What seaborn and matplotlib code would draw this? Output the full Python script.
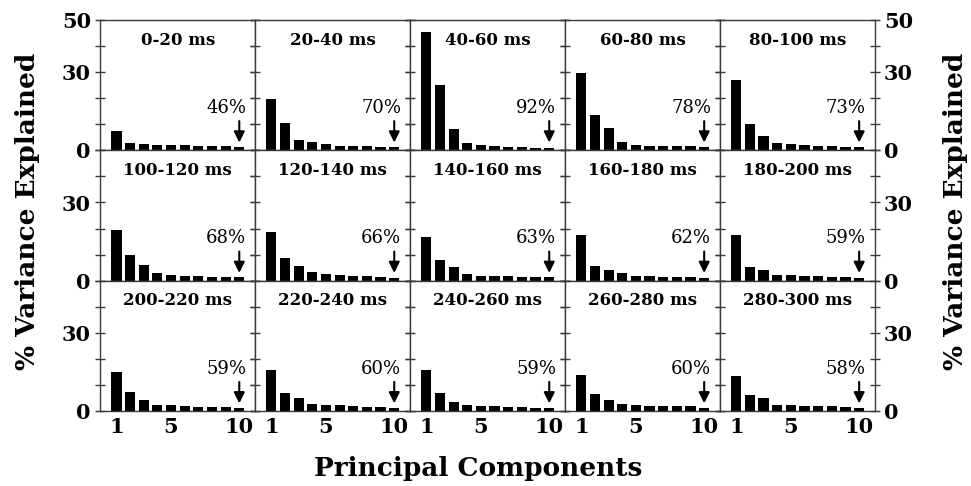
import numpy as np
import pandas as pd
import matplotlib
matplotlib.use("Agg")
import matplotlib.pyplot as plt
import seaborn as sns

windows = ["0-20 ms", "20-40 ms", "40-60 ms", "60-80 ms", "80-100 ms",
           "100-120 ms", "120-140 ms", "140-160 ms", "160-180 ms", "180-200 ms",
           "200-220 ms", "220-240 ms", "240-260 ms", "260-280 ms", "280-300 ms"]
components = list(range(1, 11))
cumulative_pct = ["46%", "70%", "92%", "78%", "73%",
                  "68%", "66%", "63%", "62%", "59%",
                  "59%", "60%", "59%", "60%", "58%"]

v_0_20    = [7.3, 2.8, 2.3, 2.1, 2.0, 1.9, 1.8, 1.7, 1.6, 1.4]
v_20_40   = [19.5, 10.5, 4.1, 3.3, 2.6, 1.7, 1.7, 1.7, 1.3, 1.2]
v_40_60   = [45.3, 25.0, 8.1, 3.0, 1.9, 1.7, 1.3, 1.2, 0.9, 0.8]
v_60_80   = [29.7, 13.5, 8.6, 3.3, 2.0, 1.7, 1.7, 1.7, 1.7, 1.3]
v_80_100  = [27.0, 10.1, 5.4, 3.0, 2.3, 2.0, 1.7, 1.5, 1.3, 1.2]
v_100_120 = [19.5, 9.9, 6.0, 2.9, 2.2, 2.0, 1.8, 1.5, 1.4, 1.3]
v_120_140 = [18.8, 8.6, 5.6, 3.3, 2.6, 2.2, 1.8, 1.7, 1.5, 1.2]
v_140_160 = [16.9, 8.1, 5.1, 2.6, 1.9, 1.7, 1.7, 1.5, 1.4, 1.3]
v_160_180 = [17.7, 5.8, 4.2, 3.1, 1.9, 1.8, 1.5, 1.4, 1.4, 1.2]
v_180_200 = [17.4, 5.1, 4.2, 2.3, 2.1, 1.9, 1.7, 1.5, 1.4, 1.2]
v_200_220 = [15.0, 7.5, 4.3, 2.4, 2.2, 1.9, 1.7, 1.7, 1.5, 1.3]
v_220_240 = [15.7, 6.8, 5.1, 2.7, 2.3, 2.2, 1.8, 1.7, 1.7, 1.3]
v_240_260 = [15.9, 7.0, 3.7, 2.3, 1.9, 1.8, 1.7, 1.5, 1.4, 1.3]
v_260_280 = [14.0, 6.5, 4.2, 2.7, 2.2, 2.0, 1.9, 1.8, 1.8, 1.4]
v_280_300 = [13.5, 6.1, 5.1, 2.5, 2.2, 2.0, 1.9, 1.8, 1.7, 1.3]

all_values = [v_0_20, v_20_40, v_40_60, v_60_80, v_80_100,
              v_100_120, v_120_140, v_140_160, v_160_180, v_180_200,
              v_200_220, v_220_240, v_240_260, v_260_280, v_280_300]

rows = []
for w, vals in zip(windows, all_values):
    for c, v in zip(components, vals):
        rows.append({"window": w, "component": c, "variance": v})
df = pd.DataFrame(rows)

sns.set_theme(style="white")
plt.rcParams['font.family'] = ['DejaVu Serif']
plt.rcParams['text.color'] = 'black'
plt.rcParams['axes.labelcolor'] = 'black'
plt.rcParams['xtick.labelcolor'] = 'black'
plt.rcParams['ytick.labelcolor'] = 'black'

fig, axes = plt.subplots(3, 5, figsize=(9.71, 4.86), dpi=100)
fig.subplots_adjust(left=0.103, right=0.901, top=0.959, bottom=0.154,
                    wspace=0, hspace=0)

spine_col = "#3a3a3a"
for i, (ax, w) in enumerate(zip(axes.flat, windows)):
    r, c = divmod(i, 5)
    sub = df[df["window"] == w]
    sns.barplot(data=sub, x="component", y="variance", color="black",
                width=0.75, saturation=1, ax=ax, edgecolor="black", linewidth=0)
    ax.set_xlim(-1.2, 10.15)
    ax.set_ylim(0, 50)
    ax.set_xlabel("")
    ax.set_ylabel("")
    for s in ax.spines.values():
        s.set_visible(True)
        s.set_color(spine_col)
        s.set_linewidth(1.0)
    ax.set_yticks([0, 10, 20, 30, 40, 50])
    if r == 0:
        ylabs = ["0", "", "", "30", "", "50"]
    else:
        ylabs = ["0", "", "", "30", "", ""]
    ax.set_yticklabels(ylabs, fontsize=15, fontweight="bold", color="black")
    ax.tick_params(axis="y", direction="inout", length=7, width=1.0,
                   color=spine_col, left=True, right=True,
                   labelleft=(c == 0), labelright=(c == 4),
                   labelcolor="black", pad=3)
    ax.set_xticks([0, 4, 9])
    if r == 2:
        ax.set_xticklabels(["1", "5", "10"], fontsize=15, fontweight="bold",
                           color="black")
    else:
        ax.set_xticklabels([])
    ax.tick_params(axis="x", length=0, pad=4)
    ax.text(4.5, 42.3, w, ha="center", va="center", fontsize=12,
            fontweight="bold", color="black")
    ax.text(9.5, 14.3, cumulative_pct[i], ha="right", va="baseline",
            fontsize=13, color="black")
    ax.annotate("", xy=(9, 3.0), xytext=(9, 11.2),
                arrowprops=dict(arrowstyle="-|>", color="black", lw=1.5,
                                mutation_scale=16, shrinkA=0, shrinkB=0))

fig.text(0.492, 0.035, "Principal Components", ha="center", va="center",
         fontsize=19, fontweight="bold", color="black")
fig.text(0.028, 0.565, "% Variance Explained", ha="center", va="center",
         rotation=90, fontsize=19, fontweight="bold", color="black")
fig.text(0.984, 0.565, "% Variance Explained", ha="center", va="center",
         rotation=90, fontsize=19, fontweight="bold", color="black")

fig.savefig("out.png", dpi=100)
